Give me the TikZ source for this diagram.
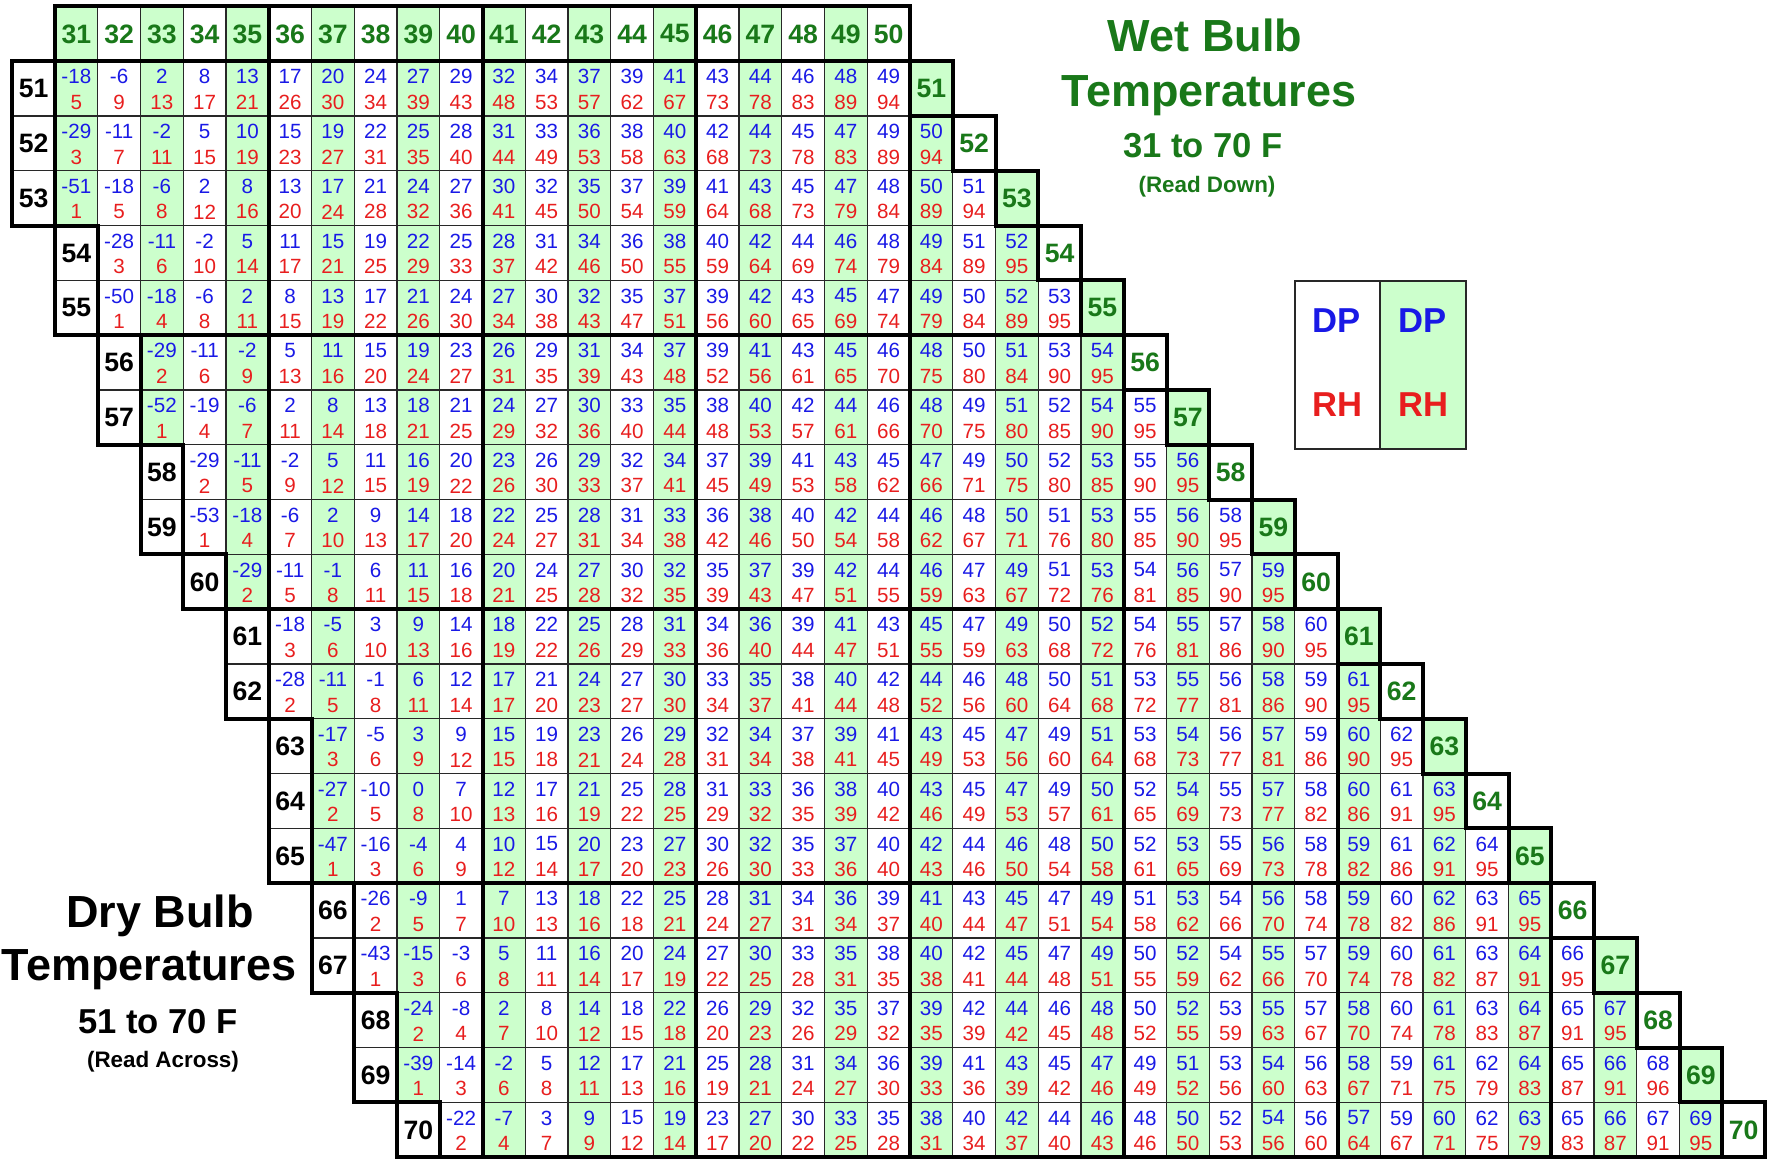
\documentclass[tikz,border=0pt]{standalone}
\usepackage{fontspec}
\setmainfont{Liberation Sans}
\definecolor{cellgreen}{RGB}{204,255,204}
\definecolor{hdrgreen}{RGB}{25,120,25}
\definecolor{dpblue}{RGB}{25,25,230}
\definecolor{rhred}{RGB}{232,30,30}
\definecolor{gridline}{RGB}{40,40,40}
\tikzset{
  declare function={cx(\q)=55+(\q-31)*42.75; ry(\q)=6.5+(\q-50)*54.8;},
  cell/.style={draw=gridline, line width=0.6},
  thk/.style={draw=black, line width=2, line cap=rect},
  dp/.style={font=\fontsize{10.3}{12}\selectfont, text=dpblue, inner sep=0},
  rh/.style={font=\fontsize{10.3}{12}\selectfont, text=rhred, inner sep=0},
  hdr/.style={font=\bfseries\fontsize{13.3}{15}\selectfont, text=hdrgreen, inner sep=0},
  lbl/.style={font=\bfseries\fontsize{13.3}{15}\selectfont, text=black, inner sep=0},
  title/.style={font=\bfseries\fontsize{22.5}{26}\selectfont, inner sep=0, anchor=base},
  subtitle/.style={font=\bfseries\fontsize{17.3}{20}\selectfont, inner sep=0, anchor=base},
  note/.style={font=\bfseries\fontsize{11.2}{13}\selectfont, inner sep=0, anchor=base},
  leg/.style={font=\bfseries\fontsize{17.3}{20}\selectfont, inner sep=0},
}
\newcommand\DataRow[4]{%
  \foreach \v [count=\ci] in {#3}{%
    \pgfmathtruncatemacro\cc{#2+\ci}%
    \ifodd\cc\def\fc{cellgreen}\else\def\fc{white}\fi
    \path[cell, fill=\fc] ({cx(\cc)},{ry(#1)}) rectangle ({cx(\cc+1)},{ry(#1+1)});
    \node[dp] (dp-#1-\cc) at ({cx(\cc)+21.375},{ry(#1)+15.5}) {\v};
  }%
  \foreach \v [count=\ci] in {#4}{%
    \pgfmathtruncatemacro\cc{#2+\ci}%
    \node[rh] (rh-#1-\cc) at ({cx(\cc)+21.375},{ry(#1)+41}) {\v};
  }%
}
\begin{document}
\begin{tikzpicture}[x=0.5pt,y=-0.5pt]
\useasboundingbox (0,0) rectangle (1769,1159);
% header row
\foreach \cc in {31,...,50}{%
  \ifodd\cc\def\fc{cellgreen}\else\def\fc{white}\fi
  \path[cell, fill=\fc] ({cx(\cc)},{ry(50)}) rectangle ({cx(\cc+1)},{ry(51)});
  \node[hdr] (h-\cc) at ({cx(\cc)+21.375},{ry(50)+27.4}) {\cc};
}
% data
\DataRow{51}{30}{-18,-6,2,8,13,17,20,24,27,29,32,34,37,39,41,43,44,46,48,49}{5,9,13,17,21,26,30,34,39,43,48,53,57,62,67,73,78,83,89,94}
\DataRow{52}{30}{-29,-11,-2,5,10,15,19,22,25,28,31,33,36,38,40,42,44,45,47,49,50}{3,7,11,15,19,23,27,31,35,40,44,49,53,58,63,68,73,78,83,89,94}
\DataRow{53}{30}{-51,-18,-6,2,8,13,17,21,24,27,30,32,35,37,39,41,43,45,47,48,50,51}{1,5,8,12,16,20,24,28,32,36,41,45,50,54,59,64,68,73,79,84,89,94}
\DataRow{54}{31}{-28,-11,-2,5,11,15,19,22,25,28,31,34,36,38,40,42,44,46,48,49,51,52}{3,6,10,14,17,21,25,29,33,37,42,46,50,55,59,64,69,74,79,84,89,95}
\DataRow{55}{31}{-50,-18,-6,2,8,13,17,21,24,27,30,32,35,37,39,42,43,45,47,49,50,52,53}{1,4,8,11,15,19,22,26,30,34,38,43,47,51,56,60,65,69,74,79,84,89,95}
\DataRow{56}{32}{-29,-11,-2,5,11,15,19,23,26,29,31,34,37,39,41,43,45,46,48,50,51,53,54}{2,6,9,13,16,20,24,27,31,35,39,43,48,52,56,61,65,70,75,80,84,90,95}
\DataRow{57}{32}{-52,-19,-6,2,8,13,18,21,24,27,30,33,35,38,40,42,44,46,48,49,51,52,54,55}{1,4,7,11,14,18,21,25,29,32,36,40,44,48,53,57,61,66,70,75,80,85,90,95}
\DataRow{58}{33}{-29,-11,-2,5,11,16,20,23,26,29,32,34,37,39,41,43,45,47,49,50,52,53,55,56}{2,5,9,12,15,19,22,26,30,33,37,41,45,49,53,58,62,66,71,75,80,85,90,95}
\DataRow{59}{33}{-53,-18,-6,2,9,14,18,22,25,28,31,33,36,38,40,42,44,46,48,50,51,53,55,56,58}{1,4,7,10,13,17,20,24,27,31,34,38,42,46,50,54,58,62,67,71,76,80,85,90,95}
\DataRow{60}{34}{-29,-11,-1,6,11,16,20,24,27,30,32,35,37,39,42,44,46,47,49,51,53,54,56,57,59}{2,5,8,11,15,18,21,25,28,32,35,39,43,47,51,55,59,63,67,72,76,81,85,90,95}
\DataRow{61}{35}{-18,-5,3,9,14,18,22,25,28,31,34,36,39,41,43,45,47,49,50,52,54,55,57,58,60}{3,6,10,13,16,19,22,26,29,33,36,40,44,47,51,55,59,63,68,72,76,81,86,90,95}
\DataRow{62}{35}{-28,-11,-1,6,12,17,21,24,27,30,33,35,38,40,42,44,46,48,50,51,53,55,56,58,59,61}{2,5,8,11,14,17,20,23,27,30,34,37,41,44,48,52,56,60,64,68,72,77,81,86,90,95}
\DataRow{63}{36}{-17,-5,3,9,15,19,23,26,29,32,34,37,39,41,43,45,47,49,51,53,54,56,57,59,60,62}{3,6,9,12,15,18,21,24,28,31,34,38,41,45,49,53,56,60,64,68,73,77,81,86,90,95}
\DataRow{64}{36}{-27,-10,0,7,12,17,21,25,28,31,33,36,38,40,43,45,47,49,50,52,54,55,57,58,60,61,63}{2,5,8,10,13,16,19,22,25,29,32,35,39,42,46,49,53,57,61,65,69,73,77,82,86,91,95}
\DataRow{65}{36}{-47,-16,-4,4,10,15,20,23,27,30,32,35,37,40,42,44,46,48,50,52,53,55,56,58,59,61,62,64}{1,3,6,9,12,14,17,20,23,26,30,33,36,40,43,46,50,54,58,61,65,69,73,78,82,86,91,95}
\DataRow{66}{37}{-26,-9,1,7,13,18,22,25,28,31,34,36,39,41,43,45,47,49,51,53,54,56,58,59,60,62,63,65}{2,5,7,10,13,16,18,21,24,27,31,34,37,40,44,47,51,54,58,62,66,70,74,78,82,86,91,95}
\DataRow{67}{37}{-43,-15,-3,5,11,16,20,24,27,30,33,35,38,40,42,45,47,49,50,52,54,55,57,59,60,61,63,64,66}{1,3,6,8,11,14,17,19,22,25,28,31,35,38,41,44,48,51,55,59,62,66,70,74,78,82,87,91,95}
\DataRow{68}{38}{-24,-8,2,8,14,18,22,26,29,32,35,37,39,42,44,46,48,50,52,53,55,57,58,60,61,63,64,65,67}{2,4,7,10,12,15,18,20,23,26,29,32,35,39,42,45,48,52,55,59,63,67,70,74,78,83,87,91,95}
\DataRow{69}{38}{-39,-14,-2,5,12,17,21,25,28,31,34,36,39,41,43,45,47,49,51,53,54,56,58,59,61,62,64,65,66,68}{1,3,6,8,11,13,16,19,21,24,27,30,33,36,39,42,46,49,52,56,60,63,67,71,75,79,83,87,91,96}
\DataRow{70}{39}{-22,-7,3,9,15,19,23,27,30,33,35,38,40,42,44,46,48,50,52,54,56,57,59,60,62,63,65,66,67,69}{2,4,7,9,12,14,17,20,22,25,28,31,34,37,40,43,46,50,53,56,60,64,67,71,75,79,83,87,91,95}
% left labels (dry bulb)
\foreach \r/\cc in {51/30,52/30,53/30,54/31,55/31,56/32,57/32,58/33,59/33,60/34,61/35,62/35,63/36,64/36,65/36,66/37,67/37,68/38,69/38,70/39}{%
  \path[cell, fill=white] ({cx(\cc)},{ry(\r)}) rectangle ({cx(\cc+1)},{ry(\r+1)});
  \node[lbl] (l-\r) at ({cx(\cc)+21.375},{ry(\r)+27.4}) {\r};
}
% diagonal labels (wet bulb continuation)
\foreach \r in {51,...,70}{%
  \ifodd\r\def\fc{cellgreen}\else\def\fc{white}\fi
  \path[cell, fill=\fc] ({cx(\r)},{ry(\r)}) rectangle ({cx(\r+1)},{ry(\r+1)});
  \node[hdr] (d-\r) at ({cx(\r)+21.375},{ry(\r)+27.4}) {\r};
}
% thick lines
\draw[thk] ({cx(31)},{ry(50)}) rectangle ({cx(51)},{ry(51)});
\foreach \cc/\a/\b in {30/51/53,31/54/55,32/56/57,33/58/59,34/60/60,35/61/62,36/63/65,37/66/67,38/68/69,39/70/70}
  \draw[thk] ({cx(\cc)},{ry(\a)}) rectangle ({cx(\cc+1)},{ry(\b+1)});
\foreach \r in {51,...,70}
  \draw[thk] ({cx(\r)},{ry(\r)}) rectangle ({cx(\r+1)},{ry(\r+1)});
\foreach \cc/\a/\b in {36/50/63,41/50/71,46/50/71,51/51/71,56/56/71,61/61/71,66/66/71}
  \draw[thk] ({cx(\cc)},{ry(\a)}) -- ({cx(\cc)},{ry(\b)});
\foreach \r/\cc in {51/30,56/32,61/35,66/37}
  \draw[thk] ({cx(\cc)},{ry(\r)}) -- ({cx(\r+1)},{ry(\r)});
\draw[thk] ({cx(39)},{ry(71)}) -- ({cx(71)},{ry(71)});
% titles
\node[title, text=hdrgreen] (wt1) at (1205,52) {Wet Bulb};
\node[title, text=hdrgreen] (wt2) at (1209,107) {Temperatures};
\node[subtitle, text=hdrgreen] (wt3) at (1203,158) {31 to 70 F};
\node[note, text=hdrgreen] (wt4) at (1207,193) {(Read Down)};
\node[title, text=black] (dt1) at (160,928) {Dry Bulb};
\node[title, text=black] (dt2) at (149,981) {Temperatures};
\node[subtitle, text=black] (dt3) at (158,1034) {51 to 70 F};
\node[note, text=black] (dt4) at (163,1068) {(Read Across)};
% legend
\path[fill=white, draw=gridline, line width=0.8] (1295,281) rectangle (1380,449);
\path[fill=cellgreen, draw=gridline, line width=0.8] (1380,281) rectangle (1466,449);
\node[leg, text=dpblue] (lg-dp1) at (1337,321) {DP};
\node[leg, text=rhred] (lg-rh1) at (1337,405) {RH};
\node[leg, text=dpblue] (lg-dp2) at (1423,321) {DP};
\node[leg, text=rhred] (lg-rh2) at (1423,405) {RH};
\end{tikzpicture}
\end{document}
